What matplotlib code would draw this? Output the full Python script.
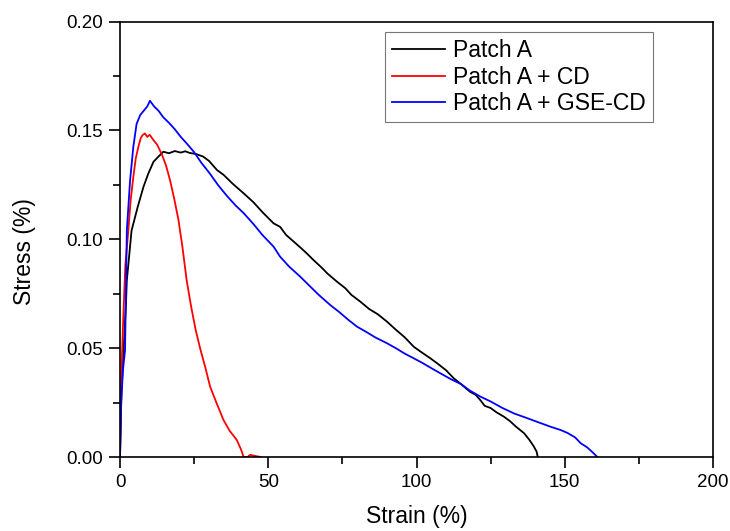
import matplotlib
matplotlib.use("Agg")
import matplotlib.pyplot as plt
from matplotlib.ticker import MultipleLocator

plt.rcParams['font.family'] = ['Liberation Sans', 'DejaVu Sans']

# Patch A (black)
strain_a = [0, 0.5, 1.2, 2.0, 2.3, 3.9, 6.0, 7.9, 9.5, 11.3, 13.0, 14.6, 16.5, 18.5,
            20.5, 22.0, 23.6, 25.5, 28.0, 30.0, 32.7, 35.0, 38.0, 41.7, 45.0, 48.0,
            51.8, 54.0, 56.0, 58.6, 61.0, 63.0, 65.3, 68.0, 70.0, 73.2, 76.0, 78.0,
            81.1, 84.0, 87.0, 90.1, 93.0, 96.0, 99.1, 102.0, 104.5, 107.0, 110.0,
            112.6, 115.0, 118.0, 120.0, 121.6, 123.0, 125.0, 127.0, 129.5, 131.5,
            133.5, 136.3, 138.0, 139.5, 140.5, 140.9]
stress_a = [0, 0.030, 0.049, 0.070, 0.081, 0.104, 0.115, 0.124, 0.130, 0.1356, 0.138,
            0.1402, 0.1395, 0.1405, 0.1398, 0.1404, 0.1396, 0.1392, 0.1380, 0.1360,
            0.1318, 0.1295, 0.1255, 0.1211, 0.1170, 0.1125, 0.1073, 0.1057, 0.1020,
            0.0989, 0.0960, 0.0935, 0.0904, 0.0870, 0.0842, 0.0805, 0.0775, 0.0745,
            0.0713, 0.0680, 0.0655, 0.0621, 0.0585, 0.0550, 0.0506, 0.0478, 0.0455,
            0.0430, 0.0398, 0.0361, 0.0335, 0.0300, 0.0285, 0.0260, 0.0235, 0.0225,
            0.0205, 0.0185, 0.0165, 0.0140, 0.0109, 0.0080, 0.0050, 0.0025, 0.0]

# Patch A + CD (red)
strain_cd = [0, 0.4, 1.1, 1.8, 2.8, 3.6, 4.5, 5.3, 6.2, 7.0, 7.6, 8.4, 9.2, 10.0,
             11.3, 12.5, 14.1, 15.5, 16.9, 18.3, 19.7, 21.0, 22.5, 24.0, 25.5, 27.0,
             28.8, 30.4, 32.5, 34.9, 37.0, 39.4, 40.8, 41.7, 43.0, 43.9, 45.5, 47.5]
stress_cd = [0, 0.035, 0.064, 0.088, 0.104, 0.118, 0.1287, 0.1370, 0.1425, 0.1465,
             0.1478, 0.1486, 0.1470, 0.1480, 0.1455, 0.1435, 0.1390, 0.1340, 0.1270,
             0.1185, 0.1090, 0.0970, 0.0810, 0.0690, 0.0585, 0.0500, 0.0410, 0.0323,
             0.0250, 0.0170, 0.0120, 0.0078, 0.0035, 0.0000, 0.0000, 0.0010, 0.0005, 0.0]

# Patch A + GSE-CD (blue)
strain_gse = [0, 0.4, 1.0, 1.7, 2.3, 3.4, 4.5, 5.6, 6.8, 8.0, 9.2, 10.1, 11.5, 13.0,
              14.6, 16.5, 18.5, 20.5, 22.5, 25.0, 27.5, 30.4, 33.0, 36.0, 39.0, 41.7,
              45.0, 48.0, 51.8, 54.0, 57.0, 60.8, 64.0, 67.0, 70.9, 74.0, 77.0, 80.0,
              83.0, 86.0, 90.1, 93.0, 96.0, 99.1, 102.0, 105.0, 108.1, 111.5, 115.0,
              118.0, 121.6, 125.0, 129.0, 132.9, 137.0, 141.0, 145.0, 148.6, 151.0,
              153.5, 155.4, 157.5, 159.5, 161.0]
stress_gse = [0, 0.025, 0.040, 0.049, 0.104, 0.127, 0.1425, 0.1530, 0.1570, 0.1590,
              0.1610, 0.1636, 0.1610, 0.1590, 0.1560, 0.1535, 0.1505, 0.1470, 0.1440,
              0.1400, 0.1350, 0.1300, 0.1250, 0.1200, 0.1155, 0.1120, 0.1070, 0.1020,
              0.0966, 0.0920, 0.0875, 0.0828, 0.0785, 0.0745, 0.0698, 0.0665, 0.0630,
              0.0598, 0.0575, 0.0550, 0.0522, 0.0500, 0.0475, 0.0453, 0.0432, 0.0408,
              0.0384, 0.0358, 0.0335, 0.0305, 0.0277, 0.0255, 0.0225, 0.0200, 0.0180,
              0.0160, 0.0140, 0.0124, 0.0110, 0.0090, 0.0063, 0.0045, 0.0020, 0.0]

series_labels = ["Patch A", "Patch A + CD", "Patch A + GSE-CD"]
x_ticks = [0, 50, 100, 150, 200]
y_ticks = [0.00, 0.05, 0.10, 0.15, 0.20]

fig = plt.figure(figsize=(7.30, 5.31), dpi=100)
ax = fig.add_axes([120/730, (531-457)/531, (713-120)/730, (457-21.5)/531])

ax.plot(strain_a, stress_a, color='black', lw=1.3, label=series_labels[0])
ax.plot(strain_cd, stress_cd, color='#ff0000', lw=1.3, label=series_labels[1])
ax.plot(strain_gse, stress_gse, color='#0000ff', lw=1.3, label=series_labels[2])

ax.set_xlim(0, 200)
ax.set_ylim(0, 0.20)
ax.set_xticks(x_ticks)
ax.set_xticklabels([f"{v:d}" for v in x_ticks])
ax.set_yticks(y_ticks)
ax.set_yticklabels([f"{v:.2f}" for v in y_ticks])
ax.xaxis.set_minor_locator(MultipleLocator(25))
ax.yaxis.set_minor_locator(MultipleLocator(0.025))
ax.tick_params(which='major', direction='out', length=8, width=1.2, labelsize=13.5,
               top=False, right=False, pad=4)
ax.tick_params(which='minor', direction='out', length=5, width=1.2,
               top=False, right=False)
for s in ax.spines.values():
    s.set_linewidth(1.2)

ax.set_xlabel("Strain (%)", fontsize=16.5, labelpad=10)
ax.set_ylabel("Stress (%)", fontsize=16.5)
ax.yaxis.set_label_coords(-0.142, 0.472)

leg = ax.legend(loc='upper right', bbox_to_anchor=(652.7/730, (531-32.3)/531),
                bbox_transform=fig.transFigure, fontsize=16.5, frameon=True,
                fancybox=False, edgecolor='#555555', handlelength=2.3,
                handletextpad=0.35, borderpad=0.3, labelspacing=0.15,
                borderaxespad=0)
leg.get_frame().set_linewidth(0.8)

fig.savefig("out.png", dpi=100)
